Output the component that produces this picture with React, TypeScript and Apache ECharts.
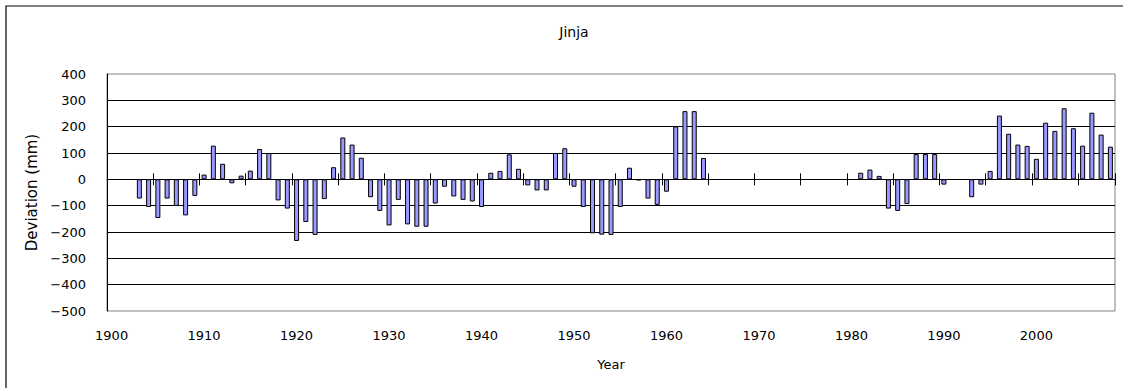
import React, { useEffect, useRef } from "react";
import * as echarts from "echarts";

// Annual rainfall deviation from the long-term mean, Jinja station
const STATION = "Jinja";
const X_TITLE = "Year";
const Y_TITLE = "Deviation (mm)";

const FIRST_YEAR = 1900;
const LAST_YEAR = 2008;
const years: string[] = Array.from(
  { length: LAST_YEAR - FIRST_YEAR + 1 },
  (_, i) => String(FIRST_YEAR + i)
);

// One value per year from 1900; null where no record exists
const deviation: (number | null)[] = [
  // 1900s
  null, null, null, -73, -105, -147, -73, -101, -137, -63,
  // 1910s
  18, 128, 59, -15, 14, 33, 115, 100, -80, -111,
  // 1920s
  -234, -162, -211, -75, 46, 159, 132, 82, -68, -120,
  // 1930s
  -175, -78, -171, -180, -180, -92, -28, -65, -78, -84,
  // 1940s
  -105, 25, 32, 95, 40, -23, -42, -42, 100, 118,
  // 1950s
  -28, -105, -205, -210, -211, -105, 44, -4, -73, -97,
  // 1960s
  -47, 201, 259, 259, 81, null, null, null, null, null,
  // 1970s
  null, null, null, null, null, null, null, null, null, null,
  // 1980s
  null, 25, 37, 13, -111, -120, -94, 96, 96, 96,
  // 1990s
  -20, null, null, -68, -20, 32, 242, 173, 132, 127,
  // 2000s
  78, 215, 184, 270, 194, 128, 253, 170, 124,
];

const Y_MIN = -500;
const Y_MAX = 400;
const Y_STEP = 100;

const FONT = "'DejaVu Sans', sans-serif";
const PLOT = { left: 107, top: 74, right: 8, bottom: 77 };

const tickStyle = {
  show: true,
  interval: 4,
  length: 6,
  lineStyle: { color: "#000", width: 1 },
};

export default function App() {
  const ref = useRef<HTMLDivElement>(null);

  useEffect(() => {
    if (!ref.current) return;
    const chart = echarts.init(ref.current, undefined, { renderer: "svg" });

    chart.setOption({
      animation: false,
      backgroundColor: "#fff",
      title: {
        text: STATION,
        left: 569,
        top: 20,
        textAlign: "center",
        textStyle: { fontFamily: FONT, fontSize: 14, fontWeight: "normal", color: "#000" },
      },
      grid: [
        { ...PLOT, show: true, borderColor: "#808080", borderWidth: 1, backgroundColor: "transparent" },
        { ...PLOT },
      ],
      xAxis: [
        {
          // zero line with downward ticks every five years
          type: "category",
          data: years,
          gridIndex: 0,
          position: "bottom",
          axisLine: { show: true, onZero: true, lineStyle: { color: "#000", width: 1 } },
          axisTick: tickStyle,
          axisLabel: { show: false },
          splitLine: { show: false },
        },
        {
          // upward half of the crossing ticks
          type: "category",
          data: years,
          gridIndex: 1,
          position: "top",
          axisLine: { show: false, onZero: true },
          axisTick: tickStyle,
          axisLabel: { show: false },
          splitLine: { show: false },
        },
        {
          // decade labels along the bottom of the plot
          type: "category",
          data: years,
          gridIndex: 0,
          position: "bottom",
          axisLine: { show: false, onZero: false },
          axisTick: { show: false },
          axisLabel: {
            interval: 9,
            margin: 18,
            fontFamily: FONT,
            fontSize: 13,
            color: "#000",
          },
          splitLine: { show: false },
          name: X_TITLE,
          nameLocation: "middle",
          nameGap: 47,
          nameTextStyle: { fontFamily: FONT, fontSize: 13, color: "#000" },
        },
      ],
      yAxis: [
        {
          type: "value",
          gridIndex: 0,
          min: Y_MIN,
          max: Y_MAX,
          interval: Y_STEP,
          axisLine: { show: true, lineStyle: { color: "#000", width: 1 } },
          axisTick: { show: false },
          axisLabel: {
            margin: 21,
            fontFamily: FONT,
            fontSize: 13,
            color: "#000",
            formatter: (v: number) => (v < 0 ? "\u2212" + Math.abs(v) : String(v)),
          },
          splitLine: {
            show: true,
            showMinLine: false,
            showMaxLine: false,
            lineStyle: { color: "#000", width: 1 },
          },
          name: Y_TITLE,
          nameLocation: "middle",
          nameGap: 66,
          nameRotate: 90,
          nameTextStyle: { fontFamily: FONT, fontSize: 15, color: "#000" },
        },
        {
          type: "value",
          gridIndex: 1,
          min: Y_MIN,
          max: Y_MAX,
          interval: Y_STEP,
          show: false,
        },
      ],
      series: [
        {
          type: "bar",
          xAxisIndex: 0,
          yAxisIndex: 0,
          data: deviation,
          barWidth: 5,
          itemStyle: { color: "#9999ff", borderColor: "#000", borderWidth: 1 },
        },
      ],
      graphic: [
        {
          type: "rect",
          silent: true,
          z: -1,
          shape: { x: 6, y: 6, width: 1200, height: 500 },
          style: { fill: "none", stroke: "#000", lineWidth: 1.2 },
        },
      ],
    });

    return () => chart.dispose();
  }, []);

  return (
    <div
      ref={ref}
      style={{ position: "fixed", left: 0, top: 0, width: 1123, height: 388 }}
    />
  );
}
